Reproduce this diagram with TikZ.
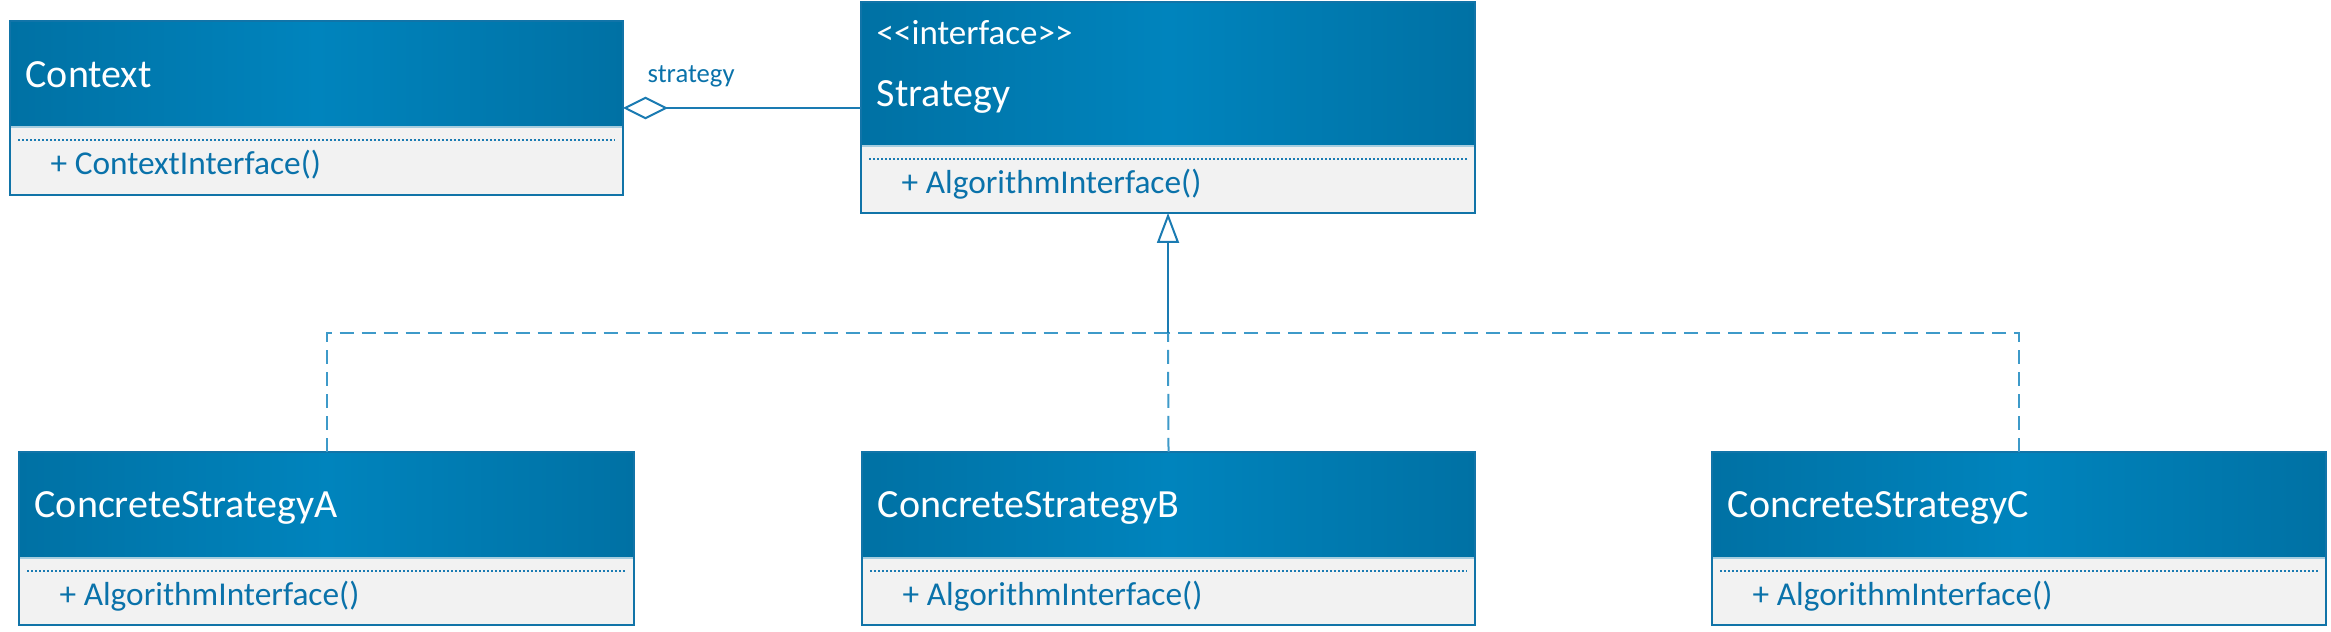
\documentclass[tikz,border=0pt]{standalone}
\usepackage{fontspec}
\setmainfont[Ligatures=NoCommon]{Carlito}
\usetikzlibrary{fit,calc,arrows.meta}
\definecolor{hdDark}{HTML}{0071A4}
\definecolor{hdLight}{HTML}{0084BD}
\definecolor{bordC}{HTML}{1174A8}
\definecolor{bodyC}{HTML}{F2F2F2}
\definecolor{txtC}{HTML}{0A72AA}
\definecolor{lineC}{HTML}{1A7BB2}
\definecolor{dashC}{HTML}{3E9AC9}
\tikzset{
  bodybox/.style={inner sep=0pt, outer sep=0pt, fill=bodyC},
  headbox/.style={inner sep=0pt, outer sep=0pt, left color=hdDark, right color=hdDark, middle color=hdLight},
  borderline/.style={draw=bordC, line width=0.75pt},
  sepline/.style={draw=lineC, line width=0.35pt, dash pattern=on 0.6pt off 0.6pt},
  titletext/.style={inner sep=0pt, text=white, font=\fontsize{12}{14}\selectfont},
  stereotext/.style={inner sep=0pt, text=white, font=\fontsize{10.5}{12}\selectfont},
  methodtext/.style={inner sep=0pt, text=txtC, font=\fontsize{10}{12}\selectfont},
  roletext/.style={inner sep=0pt, text=txtC, font=\fontsize{8}{10}\selectfont},
  assocline/.style={draw=lineC, line width=0.6pt},
  realline/.style={draw=dashC, line width=0.6pt, dash pattern=on 4.2pt off 2.4pt},
}
% name, x1, y1, x2, y2, header bottom, title baseline, title, method
\newcommand{\umlclass}[9]{%
  \node[bodybox, fit={(#2,#3) (#4,#5)}] (#1) {};
  \node[headbox, fit={(#2,#3) (#4,#6)}] (#1-h) {};
  \draw[white!65!hdDark, line width=0.5pt] (#1.west |- #1-h.south) -- (#1.east |- #1-h.south);
  \draw[borderline] (#1.north west) rectangle (#1.south east);
  \draw[sepline] (#2+8,#6+13) -- (#4-8,#6+13);
  \node[titletext, anchor=base west] (#1-t) at (#2+15,#7) {#8};
  \node[methodtext, anchor=base west] (#1-m) at (#2+40,#6+48) {#9};
}
\begin{document}
\begin{tikzpicture}[x=0.3pt,y=-0.3pt]
\useasboundingbox (0,0) rectangle (2331,632);

\umlclass{ctx}{10}{21}{623}{195}{127}{88}{Context}{+ ContextInterface()}
\umlclass{strat}{861}{2}{1475}{213}{146}{107}{Strategy}{+ AlgorithmInterface()}
\node[stereotext, anchor=base west] (strat-s) at (876,45) {<{}<interface>{}>};
\umlclass{ca}{19}{452}{634}{625}{558}{518}{ConcreteStrategyA}{+ AlgorithmInterface()}
\umlclass{cb}{862}{452}{1475}{625}{558}{518}{ConcreteStrategyB}{+ AlgorithmInterface()}
\umlclass{cc}{1712}{452}{2326}{625}{558}{518}{ConcreteStrategyC}{+ AlgorithmInterface()}

% aggregation
\draw[assocline, {Diamond[open,length=13.5pt,width=6.8pt]}-] (ctx.east) -- (ctx.east -| strat.west);
\node[roletext, anchor=base west] (role) at (647,83) {strategy};

% realization
\coordinate (j) at (strat.south |- 0,333);
\draw[realline] (ca.north) |- (j);
\draw[realline] (cc.north) |- (j);
\draw[realline] (cb.north) -- (j);
\draw[assocline, -{Triangle[open,length=9pt,width=6.6pt]}] (j) -- (strat.south);
\end{tikzpicture}
\end{document}
